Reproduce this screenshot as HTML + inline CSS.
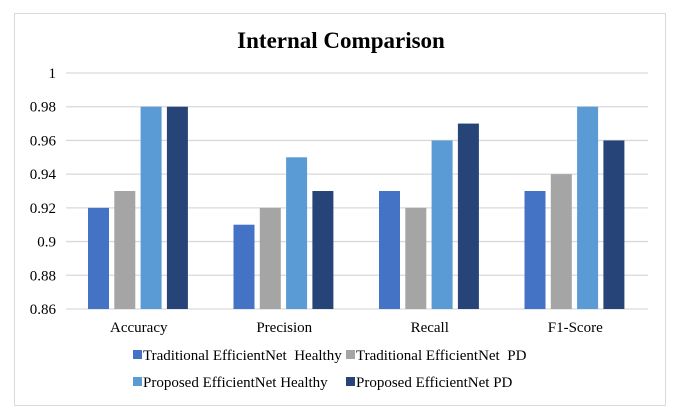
<!DOCTYPE html>
<html><head><meta charset="utf-8"><style>
body{margin:0;background:#fff;}
svg text{font-family:"Liberation Serif",serif;fill:#000;}
</style></head><body>
<svg width="678" height="415">
<rect x="14.5" y="13.5" width="651" height="392" fill="#fff" stroke="#d9d9d9"/>
<text x="341" y="48" text-anchor="middle" font-size="23" font-weight="bold">Internal Comparison</text>
<g id="grid"></g><g id="bars"></g><g id="legend"></g>
</svg>
<script>
const categories=["Accuracy","Precision","Recall","F1-Score"];
const seriesNames=["Traditional EfficientNet  Healthy","Traditional EfficientNet  PD","Proposed EfficientNet Healthy","Proposed EfficientNet PD"];
const tradHealthy=[0.92,0.91,0.93,0.93];
const tradPD=[0.93,0.92,0.92,0.94];
const propHealthy=[0.98,0.95,0.96,0.98];
const propPD=[0.98,0.93,0.97,0.96];
const yTicks=[0.86,0.88,0.9,0.92,0.94,0.96,0.98,1];
const yTickLabels=["0.86","0.88","0.9","0.92","0.94","0.96","0.98","1"];
const colors=["#4472c4","#a5a5a5","#5b9bd5","#264478"];
const series=[tradHealthy,tradPD,propHealthy,propPD];
const NS="http://www.w3.org/2000/svg";
const L=66,R=648,T=73,B=309,ymin=0.86,ymax=1;
const y=v=>B-(v-ymin)/(ymax-ymin)*(B-T);
const gw=(R-L)/categories.length;
function mk(t,a,p){const e=document.createElementNS(NS,t);for(const k in a)e.setAttribute(k,a[k]);p.appendChild(e);return e;}
const grid=document.getElementById('grid');
yTicks.forEach((v,i)=>{
 const l=mk('line',{x1:L,x2:R,y1:y(v),y2:y(v),stroke:'#d9d9d9','stroke-width':1.3},grid);
 
 
 const t=mk('text',{x:56,y:y(v)+5,'text-anchor':'end','font-size':15},grid);
 t.textContent=yTickLabels[i];
 
 
});
const bars=document.getElementById('bars');
categories.forEach((c,ci)=>{
 const g0=L+ci*gw;
 series.forEach((s,si)=>{
  const r=mk('rect',{x:g0+22+si*26.3,y:y(s[ci]),width:21,height:B-y(s[ci]),fill:colors[si]},bars);
  
  
 });
 const t=mk('text',{x:g0+gw/2,y:332,'text-anchor':'middle','font-size':15},bars);
 t.textContent=c;
 
 
});
const leg=document.getElementById('legend');
const pos=[[133,360],[346,360],[133,387],[346,387]];
seriesNames.forEach((n,i)=>{
 const r=mk('rect',{x:pos[i][0],y:pos[i][1]-10,width:9,height:9,fill:colors[i]},leg);
 
 
 const t=mk('text',{x:pos[i][0]+10,y:pos[i][1],'font-size':15},leg);
 t.style.whiteSpace='pre';
 t.textContent=n;
 
 
});
</script>
</body></html>
